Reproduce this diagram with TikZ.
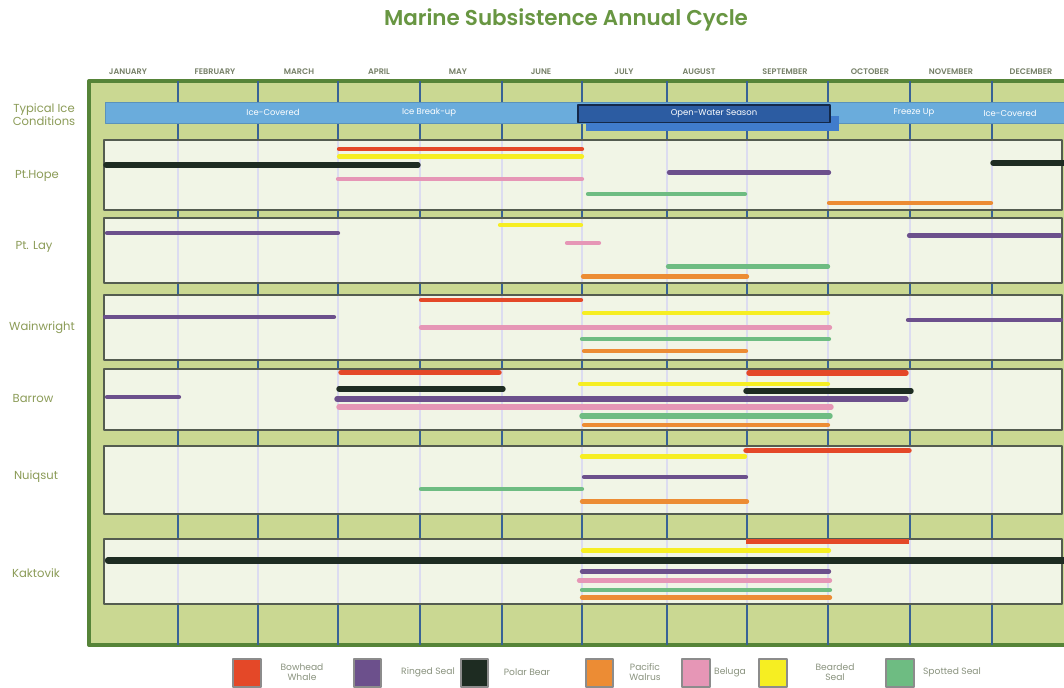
\documentclass[tikz,border=0pt]{standalone}
\usepackage{fontspec}
\setmainfont{Poppins}[BoldFont={Poppins SemiBold}]
\usepackage{tikz}
\usetikzlibrary{calc}

\definecolor{titlegreen}{RGB}{104,150,66}
\definecolor{labelgreen}{RGB}{140,156,88}
\definecolor{monthgray}{RGB}{118,128,104}
\definecolor{framegreen}{RGB}{86,132,56}
\definecolor{framefill}{RGB}{202,216,146}
\definecolor{panelfill}{RGB}{241,245,230}
\definecolor{paneledge}{RGB}{84,92,80}
\definecolor{monthblue}{RGB}{56,98,150}
\definecolor{gridlav}{RGB}{220,220,240}
\definecolor{iceblue}{RGB}{106,172,220}
\definecolor{openblue}{RGB}{44,92,162}
\definecolor{shelfblue}{RGB}{64,124,204}
\definecolor{bowhead}{RGB}{228,72,40}
\definecolor{ringed}{RGB}{108,80,140}
\definecolor{polar}{RGB}{30,44,34}
\definecolor{walrus}{RGB}{236,140,52}
\definecolor{beluga}{RGB}{230,150,182}
\definecolor{bearded}{RGB}{246,238,34}
\definecolor{spotted}{RGB}{110,188,130}

\begin{document}
\begin{tikzpicture}[line cap=round,line join=round,x=0.02cm,y=-0.02cm,
  bar/.style={line width=2.4pt},
  bigbar/.style={line width=3.1pt},
  panel/.style={draw=paneledge,line width=0.8pt,fill=panelfill,line cap=butt},
  monthline/.style={draw=monthblue,line width=1.4pt,line cap=butt},
  gridline/.style={draw=gridlav,line width=0.6pt,line cap=butt},
  monthlabel/.style={text=monthgray,font=\fontsize{4.6}{5}\selectfont\bfseries},
  sitelabel/.style={text=labelgreen,font=\fontsize{6.6}{7.6}\selectfont,align=center},
  icelabel/.style={text=white,font=\fontsize{4.8}{5}\selectfont},
  keybox/.style={draw=black!45,line width=0.8pt,line cap=butt},
  keylabel/.style={text=monthgray!85,font=\fontsize{5.2}{6}\selectfont,align=center}]
\useasboundingbox (0,0) rectangle (1064,688);
\clip (0,0) rectangle (1064,688);
\fill[white] (0,0) rectangle (1064,688);

\draw[titlegreen] (566,20) node (title) {\fontsize{12.2}{14}\selectfont\bfseries Marine Subsistence Annual Cycle};

\draw[monthgray] (128,72) node[monthlabel] (jan) {JANUARY};
\draw[monthgray] (215,72) node[monthlabel] (feb) {FEBRUARY};
\draw[monthgray] (299,72) node[monthlabel] (mar) {MARCH};
\draw[monthgray] (379,72) node[monthlabel] (apr) {APRIL};
\draw[monthgray] (458,72) node[monthlabel] (may) {MAY};
\draw[monthgray] (541,72) node[monthlabel] (jun) {JUNE};
\draw[monthgray] (624,72) node[monthlabel] (jul) {JULY};
\draw[monthgray] (699,72) node[monthlabel] (aug) {AUGUST};
\draw[monthgray] (785,72) node[monthlabel] (sep) {SEPTEMBER};
\draw[monthgray] (870,72) node[monthlabel] (oct) {OCTOBER};
\draw[monthgray] (951,72) node[monthlabel] (nov) {NOVEMBER};
\draw[monthgray] (1031,72) node[monthlabel] (dec) {DECEMBER};

\draw[framegreen,line width=2.2pt,fill=framefill,line cap=butt] (89,81) rectangle (1090,645);
\foreach \x in {178,258,338,420,502,582,667,747,828,910,992}
  \draw[monthline] (\x,81) -- (\x,645);

\draw[fill=iceblue,draw=iceblue!85!black,line width=0.5pt] (105,102) rectangle (1080,123.5);
\fill[shelfblue] (586,116) rectangle (839,131);
\draw[fill=openblue,draw=openblue!45!black,line width=0.9pt] (578,105) rectangle (830,122.5);
\draw (273,112.5) node[icelabel] (icecov) {Ice-Covered};
\draw (429,112.5) node[icelabel] (breakup) {Ice Break-up};
\draw (714,114) node[icelabel] (openwater) {Open-Water Season};
\draw (914,112.5) node[icelabel] (freeze) {Freeze Up};
\draw (1010,113.5) node[icelabel] (icecov2) {Ice-Covered};

\foreach \t/\b in {140/210,218/283,295/360,369/430,446/514,539/604} {
  \draw[panel] (104,\t) rectangle (1062,\b);
  \foreach \x in {178,258,338,420,502,582,667,747,828,910,992}
    \draw[gridline] (\x,\t+0.6) -- (\x,\b-0.6);
}

\draw (44,114.5) node[sitelabel] (ice) {Typical Ice\\Conditions};
\draw (37,176) node[sitelabel] (hope) {Pt.Hope};
\draw (34,246.5) node[sitelabel] (lay) {Pt. Lay};
\draw (42,328) node[sitelabel] (wain) {Wainwright};
\draw (33,399) node[sitelabel] (barrow) {Barrow};
\draw (36,477) node[sitelabel] (nuiq) {Nuiqsut};
\draw (36,573) node[sitelabel] (kak) {Kaktovik};

\draw[bar,bowhead] (339,149) -- (582,149);
\draw[bar,bearded] (339,156.5) -- (582,156.5);
\draw[bigbar,polar] (106,165) -- (418,165);
\draw[bigbar,polar] (993,163) -- (1066,163);
\draw[bar,ringed] (669,172.5) -- (829,172.5);
\draw[bar,beluga] (338,179) -- (582,179);
\draw[bar,spotted] (588,194) -- (745,194);
\draw[bar,walrus] (829,203) -- (991,203);

\draw[bar,bearded] (500,225) -- (581,225);
\draw[bar,ringed] (107,233) -- (338,233);
\draw[bar,ringed] (909,235.5) -- (1060,235.5);
\draw[bar,beluga] (567,243) -- (599,243);
\draw[bar,spotted] (668,266.5) -- (828,266.5);
\draw[bar,walrus] (583,276.5) -- (747,276.5);

\draw[bar,bowhead] (421,300) -- (581,300);
\draw[bar,bearded] (584,313) -- (828,313);
\draw[bar,ringed] (105,317) -- (334,317);
\draw[bar,ringed] (908,320) -- (1061,320);
\draw[bar,beluga] (421,327.5) -- (830,327.5);
\draw[bar,spotted] (582,339) -- (829,339);
\draw[bar,walrus] (584,351) -- (746,351);

\draw[bigbar,bowhead] (341,372.5) -- (499,372.5);
\draw[bigbar,bowhead] (749,373) -- (906,373);
\draw[bar,bearded] (580,384) -- (828,384);
\draw[bigbar,polar] (339,389) -- (503,389);
\draw[bigbar,polar] (746,391) -- (911,391);
\draw[bar,ringed] (107,397) -- (179,397);
\draw[bigbar,ringed] (337,399) -- (906,399);
\draw[bigbar,beluga] (339,407) -- (831,407);
\draw[bigbar,spotted] (582,416) -- (830,416);
\draw[bar,walrus] (584,425) -- (828,425);

\draw[bigbar,bowhead] (746,450.5) -- (909,450.5);
\draw[bar,bearded] (582,456.5) -- (745,456.5);
\draw[bar,ringed] (584,477) -- (746,477);
\draw[bar,spotted] (421,489) -- (582,489);
\draw[bar,walrus] (582,501.5) -- (747,501.5);

\draw[bigbar,bowhead,line cap=butt] (746,541.5) -- (909,541.5);
\draw[bar,bearded] (583,550.5) -- (829,550.5);
\draw[line width=3.6pt,polar] (108,560.5) -- (1066,560.5);
\draw[bar,ringed] (582,571.5) -- (829,571.5);
\draw[bar,beluga] (579,580.5) -- (830,580.5);
\draw[bar,spotted] (582,590) -- (830,590);
\draw[bar,walrus] (582,597.5) -- (830,597.5);

\draw[keybox,fill=bowhead] (233,659) rectangle (261,687);
\draw (302,672) node[keylabel] (kbow) {Bowhead\\Whale};
\draw[keybox,fill=ringed] (354,659) rectangle (381,687);
\draw (428,672) node[keylabel] (kring) {Ringed Seal};
\draw[keybox,fill=polar] (461,659) rectangle (488,687);
\draw (527,672) node[keylabel] (kpolar) {Polar Bear};
\draw[keybox,fill=walrus] (586,659) rectangle (613,687);
\draw (645,672) node[keylabel] (kwal) {Pacific\\Walrus};
\draw[keybox,fill=beluga] (682,659) rectangle (710,687);
\draw (730,672) node[keylabel] (kbel) {Beluga};
\draw[keybox,fill=bearded] (759,659) rectangle (787,687);
\draw (835,672) node[keylabel] (kbear) {Bearded\\Seal};
\draw[keybox,fill=spotted] (886,659) rectangle (914,687);
\draw (952,672) node[keylabel] (kspot) {Spotted Seal};
\end{tikzpicture}
\end{document}
